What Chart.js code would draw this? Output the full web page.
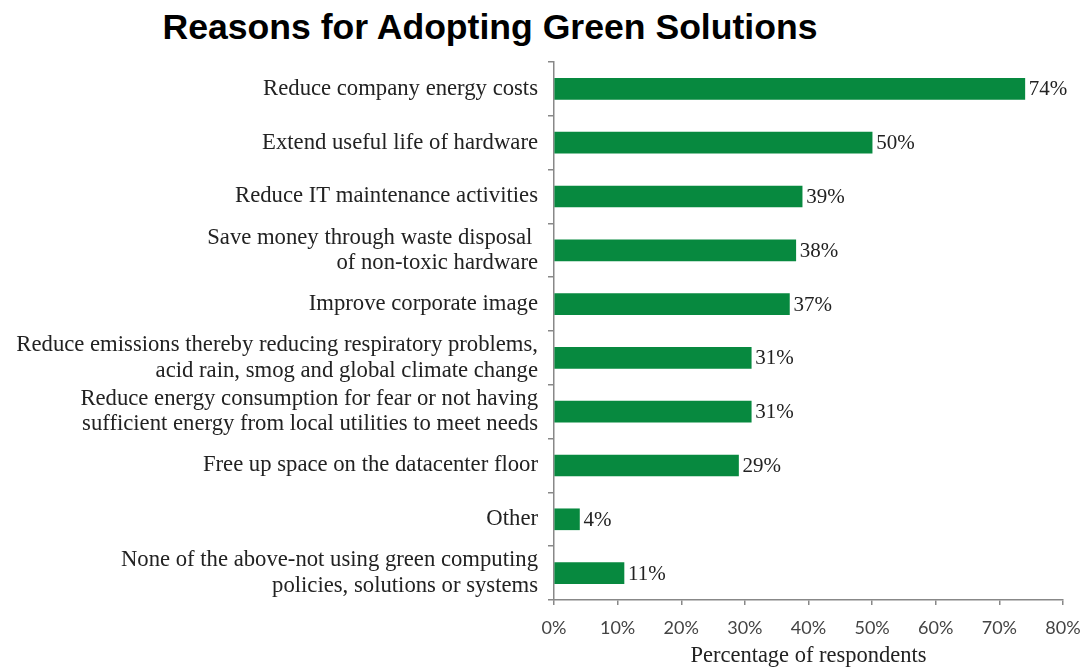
<!DOCTYPE html>
<html>
<head>
<meta charset="utf-8">
<script src="https://cdn.jsdelivr.net/npm/chart.js@4/dist/chart.umd.min.js"></script>
<style>
  html, body { margin: 0; padding: 0; background: #fff; }
  #wrap { position: relative; width: 1083px; height: 671px; }
  #title {
    position: absolute; left: 90px; top: 7px; width: 800px;
    text-align: center; font: bold 35.6px "Liberation Sans", Arial, sans-serif; color: #000;
  }
  canvas { position: absolute; left: 0; top: 0; }
</style>
</head>
<body>
<div id="wrap">
  <div id="title">Reasons for Adopting Green Solutions</div>
  <canvas id="chartCanvas" width="1083" height="671"></canvas>
</div>
<script>
const categories = [
  ["Reduce company energy costs"],
  ["Extend useful life of hardware"],
  ["Reduce IT maintenance activities"],
  ["Save money through waste disposal ", "of non-toxic hardware"],
  ["Improve corporate image"],
  ["Reduce emissions thereby reducing respiratory problems,", "acid rain, smog and global climate change"],
  ["Reduce energy consumption for fear or not having", "sufficient energy from local utilities to meet needs"],
  ["Free up space on the datacenter floor"],
  ["Other"],
  ["None of the above-not using green computing", "policies, solutions or systems"],
];
const percentValues = [74, 50, 39, 38, 37, 31, 31, 29, 4, 11];
const xTickValues = [0, 10, 20, 30, 40, 50, 60, 70, 80];

const serif = '"Liberation Serif", "Times New Roman", serif';

const valueLabels = {
  id: "valueLabels",
  afterDatasetsDraw(chart) {
    const ctx = chart.ctx;
    const meta = chart.getDatasetMeta(0);
    ctx.save();
    ctx.font = "21px " + serif;
    ctx.fillStyle = "#222";
    ctx.textAlign = "left";
    ctx.textBaseline = "middle";
    meta.data.forEach((bar, i) => {
      ctx.fillText(percentValues[i] + "%", bar.x + 4, bar.y + 1);
    });
    ctx.restore();
  }
};

new Chart(document.getElementById("chartCanvas"), {
  type: "bar",
  data: {
    labels: categories,
    datasets: [{
      data: percentValues,
      backgroundColor: "#07893f",
      borderWidth: 0,
      barThickness: 21,
    }],
  },
  options: {
    indexAxis: "y",
    responsive: false,
    animation: false,
    layout: { padding: { top: 62, right: 20, left: 0, bottom: 0 } },
    plugins: {
      legend: { display: false },
      tooltip: { enabled: false },
    },
    scales: {
      x: {
        min: 0,
        max: 80,
        afterBuildTicks: (scale) => { scale.ticks = xTickValues.map(v => ({ value: v })); },
        afterFit: (scale) => { scale.height = 71; scale.paddingRight = 0; },
        ticks: {
          callback: (v) => v + "%",
          color: "#444",
          padding: 12,
          font: { family: "Lato, sans-serif", size: 18 },
        },
        grid: { drawOnChartArea: false, tickLength: 5, color: "#888", lineWidth: 1.5 },
        border: { color: "#888", width: 1.5 },
        title: {
          display: true,
          text: "Percentage of respondents",
          color: "#222",
          padding: { top: 0, bottom: 1 },
          font: { family: serif, size: 22.5 },
        },
      },
      y: {
        afterFit: (scale) => { scale.width = 554; },
        ticks: {
          autoSkip: false,
          color: "#222",
          padding: 10,
          font: { family: serif, size: 22.7, lineHeight: 1.12 },
        },
        grid: { drawOnChartArea: false, tickLength: 6, color: "#888", lineWidth: 1.5, offset: true },
        border: { color: "#888", width: 1.5 },
      },
    },
  },
  plugins: [valueLabels],
});
</script>
</body>
</html>
